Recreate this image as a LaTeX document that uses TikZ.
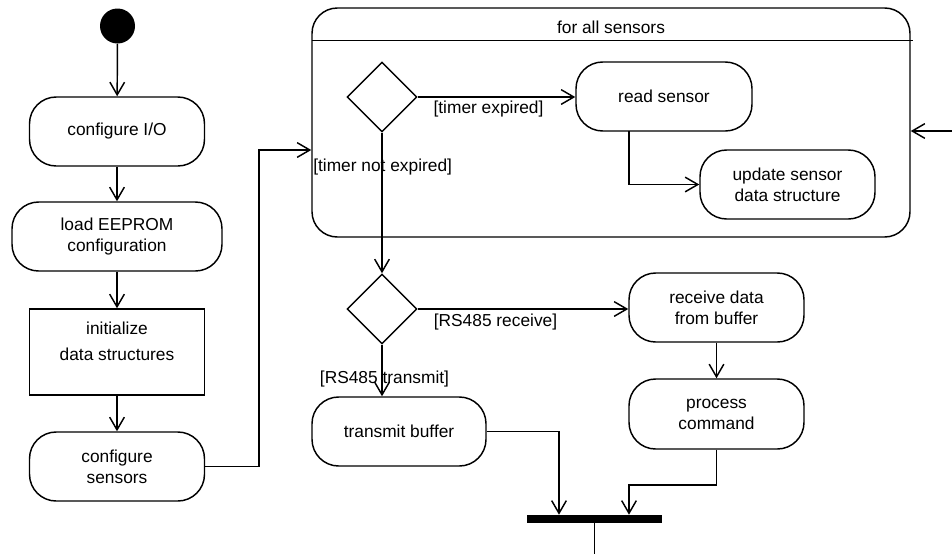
\documentclass[tikz,border=0pt]{standalone}
\usepackage{fontspec}
\setmainfont{Liberation Sans}
\usetikzlibrary{arrows.meta,shapes.geometric,calc}

\tikzset{
  txt/.style={font=\fontsize{13}{15.75}\selectfont, align=center, inner sep=0pt},
  action/.style={txt, draw, line width=1.1pt, rounded corners=20pt,
                 minimum height=51.75pt},
  plainbox/.style={draw, line width=1.1pt, minimum width=131.25pt, minimum height=64.5pt, inner sep=0pt},
  decision/.style={draw, line width=1.1pt, diamond, aspect=1, inner sep=0pt,
                   minimum width=52.5pt, minimum height=52.5pt},
  guard/.style={txt},
  flow/.style={line width=1.1pt, -{Straight Barb[length=9.5pt,width=11pt,line width=1.1pt]}},
  wire/.style={line width=1.1pt},
}

\begin{document}
\begin{tikzpicture}[x=0.75pt, y=-0.75pt]
\useasboundingbox (0,0) rectangle (952,554);

% initialisation column
\node[circle, fill=black, minimum size=26.25pt, inner sep=0pt] (start) at (117.5,26) {};
\node[action, minimum width=131.25pt] (cio) at (117,131.5) {configure I/O};
\node[action, minimum width=157.5pt] (eeprom) at (117,236.5) {load EEPROM\\configuration};
\node[plainbox] (init) at (117,352) {};
\node[txt, font=\fontsize{13}{19.5}\selectfont] (inittext) at (117,341) {initialize\\data structures};
\node[action, minimum width=131.25pt] (csens) at (117,466.5) {configure\\sensors};

\draw[flow] (start) -- (cio);
\draw[flow] (cio) -- (eeprom);
\draw[flow] (eeprom) -- (init);
\draw[flow] (init) -- (csens);

% sensor loop region
\node[draw, line width=1.1pt, rounded corners=19pt, minimum width=448.5pt,
      minimum height=171.75pt, inner sep=0pt] (loop) at (611,122.5) {};
\coordinate (hdrL) at (312,40.7);
\coordinate (hdrR) at (913,40.7);
\draw[wire] (hdrL) -- (hdrR);
\node[txt] (loophdr) at (611,27) {for all sensors};

\coordinate (jog) at (259,150);
\draw[flow] (csens.east) -| (jog) -- (jog -| loop.west);

\coordinate (rin) at (952,131);
\draw[flow] (rin) -- (rin -| loop.east);

\node[decision] (d1) at (382,97) {};
\node[action, minimum width=132pt] (read) at (664,96.5) {read sensor};
\node[action, minimum width=131.25pt] (upd) at (787.5,184.5) {update sensor\\data structure};

\draw[flow] (d1.east) -- (d1.east -| read.west);
\node[guard] (gexp) at (488.5,109) {[timer expired]};

\coordinate (rdown) at (629,131);
\draw[flow] (rdown) |- (upd.west);

% communication handling
\node[decision] (d2) at (382,309) {};
\draw[flow] (d1.south) -- (d2.north);
\node[guard, anchor=west] (gnexp) at (313,167) {[timer not expired]};

\node[action, minimum width=131.25pt] (recv) at (716.5,307.5) {receive data\\from buffer};
\node[action, minimum width=131.25pt, minimum height=52.5pt] (proc) at (716.5,414) {process\\command};
\node[action, minimum width=130.5pt] (trans) at (399,431.5) {transmit buffer};

\draw[flow] (d2.east) -- (d2.east -| recv.west);
\node[guard] (grecv) at (495.5,322) {[RS485 receive]};

\draw[flow] (d2.south) -- (d2.south |- trans.north);
\node[guard] (gtrans) at (384.5,379) {[RS485 transmit]};

\draw[flow] (recv) -- (proc);

% synchronisation bar
\node[fill=black, minimum width=101.25pt, minimum height=6pt, inner sep=0pt] (bar) at (594.5,519) {};

\coordinate (tj) at (559,515);
\draw[flow] (trans.east) -| (tj |- bar.north);

\coordinate (pj) at (629,485);
\draw[flow] (proc.south) |- (pj) -- (pj |- bar.north);

\coordinate (exitpt) at (594.5,554);
\draw[wire] (bar.south) -- (exitpt);
\end{tikzpicture}
\end{document}
